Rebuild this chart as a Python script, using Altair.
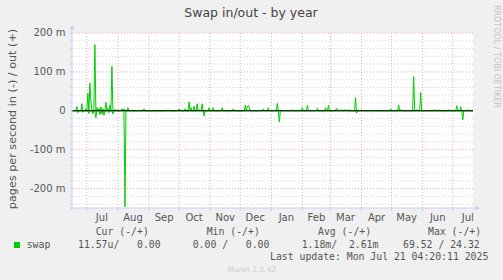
import altair as alt
import pandas as pd

# ---- data (milli-pages per second) ----
out_dates = ["2024-06-21", "2024-06-26", "2024-06-30", "2024-07-02", "2024-07-04", "2024-07-05",
             "2024-07-09", "2024-07-11", "2024-07-13", "2024-07-15", "2024-07-17", "2024-07-20",
             "2024-07-22", "2024-07-24", "2024-07-26", "2024-07-29", "2024-08-01", "2024-08-05",
             "2024-08-07", "2024-08-11", "2024-08-27", "2024-09-20", "2024-09-30", "2024-10-01",
             "2024-10-02", "2024-10-07", "2024-10-11", "2024-10-13", "2024-10-16", "2024-10-19",
             "2024-10-21", "2024-10-24", "2024-10-31", "2024-11-04", "2024-11-13", "2024-11-24",
             "2024-12-06", "2024-12-08", "2024-12-09", "2024-12-10", "2024-12-24", "2024-12-29",
             "2025-01-07", "2025-01-22", "2025-02-01", "2025-02-06", "2025-02-16", "2025-02-24",
             "2025-02-27", "2025-03-07", "2025-03-10", "2025-03-12", "2025-03-15", "2025-03-17",
             "2025-03-20", "2025-03-26", "2025-04-01", "2025-04-30", "2025-05-08", "2025-05-10",
             "2025-05-23", "2025-05-26", "2025-05-30", "2025-06-13", "2025-06-17", "2025-06-27",
             "2025-07-05", "2025-07-09", "2025-07-17"]
out_vals = [11, 18, 5, 45, 71, 25,
            170, 8, 6, 10, 5, 22,
            6, 15, 114, 4, 3, 5,
            5, 8, 5, 3, 3, 3,
            3, 5, 23, 8, 12, 18,
            3, 18, 8, 8, 8, 5,
            14, 10, 14, 8, 5, 8,
            19, 3, 8, 14, 6, 8,
            14, 7, 3, 3, 3, 3,
            3, 34, 3, 5, 15, 3,
            88, 3, 47, 3, 3, 3,
            13, 10, 3]

in_dates = ["2024-06-22", "2024-06-27", "2024-07-03", "2024-07-07", "2024-07-10", "2024-07-14",
            "2024-07-16", "2024-07-18", "2024-07-23", "2024-07-27", "2024-08-08", "2024-10-26",
            "2025-01-09", "2025-03-27", "2025-07-11"]
in_vals = [5, 4, 7, 8, 18, 10,
           8, 12, 5, 8, 247, 13,
           29, 6, 23]

month_starts = ["2024-07-01", "2024-08-01", "2024-09-01", "2024-10-01", "2024-11-01", "2024-12-01",
                "2025-01-01", "2025-02-01", "2025-03-01", "2025-04-01", "2025-05-01", "2025-06-01",
                "2025-07-01"]
month_mids = ["2024-07-16", "2024-08-16", "2024-09-16", "2024-10-16", "2024-11-16", "2024-12-16",
              "2025-01-16", "2025-02-15", "2025-03-16", "2025-04-16", "2025-05-16", "2025-06-16",
              "2025-07-16"]
month_labels = ["Jul", "Aug", "Sep", "Oct", "Nov", "Dec", "Jan", "Feb", "Mar", "Apr", "May", "Jun", "Jul"]

y_major = [-200, -100, 0, 100, 200]
y_major_labels = ["-200 m", "-100 m", "0", "100 m", "200 m"]
y_minor = [-240, -220, -180, -160, -140, -120, -80, -60, -40, -20,
           20, 40, 60, 80, 120, 140, 160, 180]

legend_headers = ["Cur (-/+)", "Min (-/+)", "Avg (-/+)", "Max (-/+)"]
legend_values = ["11.57u/   0.00", "0.00 /   0.00", "1.18m/  2.61m", "69.52 / 24.32"]
last_update = "Last update: Mon Jul 21 04:20:11 2025"

# ---- tables ----
days = pd.date_range("2024-06-16", "2025-07-21", freq="D")
out_s = pd.Series(0.0, index=days)
out_s[pd.to_datetime(out_dates)] = out_vals
in_s = pd.Series(0.0, index=days)
in_s[pd.to_datetime(in_dates)] = in_vals
day_str = list(days.strftime("%Y-%m-%d"))
lines_df = pd.concat([
    pd.DataFrame({"date": day_str, "value": out_s.values, "series": "out"}),
    pd.DataFrame({"date": day_str, "value": -in_s.values, "series": "in"}),
])

def ms(s):
    return int(pd.Timestamp(s, tz="UTC").value // 10**6)

x_domain = [ms("2024-06-16 04:20"), ms("2025-07-21 04:20")]
xscale = alt.Scale(type="utc", domain=x_domain)
yscale = alt.Scale(domain=[-250, 200], nice=False, zero=False)

AX = "#C8CCF4"
PINK = "#F0A8A8"
GREY = "#D4D4D4"
FONT = "DejaVu Sans"
MONO = "DejaVu Sans Mono"
W, H = 401, 175

minor_df = pd.DataFrame({"v": y_minor})
major_df = pd.DataFrame({"v": y_major, "lab": y_major_labels})
yt_df = pd.DataFrame({"v": sorted(y_minor + y_major)})
months_df = pd.DataFrame({"d": month_starts})
mids_df = pd.DataFrame({"d": month_mids, "lab": month_labels})

Y = lambda f: alt.Y(f, scale=yscale, axis=None)
X = lambda f: alt.X(f, scale=xscale, axis=None)

minor = alt.Chart(minor_df).mark_rule(color=GREY, strokeDash=[1, 2], strokeWidth=1).encode(y=Y("v:Q"))
vgrid = alt.Chart(months_df).mark_rule(color=PINK, strokeDash=[1, 2], strokeWidth=1).encode(x=X("d:T"))
major = alt.Chart(major_df).mark_rule(color=PINK, strokeDash=[1, 2], strokeWidth=1).encode(y=Y("v:Q"))

lines = alt.Chart(lines_df).mark_line(color="#00CC00", strokeWidth=1, clip=True).encode(
    x=X("date:T"), y=Y("value:Q"), detail="series:N")

zero = alt.Chart(pd.DataFrame({"v": [0]})).mark_rule(color="#000000", strokeWidth=1).encode(y=Y("v:Q"))

# axis ticks and labels
yticks = alt.Chart(yt_df).mark_rule(color=AX, strokeWidth=1).encode(
    y=Y("v:Q"), x=alt.value(-2), x2=alt.value(0))
xticks = alt.Chart(months_df).mark_rule(color=AX, strokeWidth=1).encode(
    x=X("d:T"), y=alt.value(H), y2=alt.value(H + 3))
ylabels = alt.Chart(major_df).mark_text(font=FONT, fontSize=10, color="#555555", baseline="middle",
                                        align="right").encode(
    y=Y("v:Q"), x=alt.value(-6.5), text="lab:N")
mlabels = alt.Chart(mids_df).mark_text(font=FONT, fontSize=10, color="#555555", baseline="middle").encode(
    x=X("d:T"), y=alt.value(184.5), text="lab:N")

NB = "\u00a0"

def txt(s, x, y, **kw):
    return alt.Chart(pd.DataFrame({"t": [s.replace(" ", NB)]})).mark_text(baseline="middle", **kw).encode(
        x=alt.value(x), y=alt.value(y), text="t:N")

ox, oy = 72, 33
one = pd.DataFrame({"k": [1]})
ext_y = alt.Chart(one).mark_rule(color=AX).encode(
    x=alt.value(0), y=alt.value(-6), y2=alt.value(H + 2))
ext_x = alt.Chart(one).mark_rule(color=AX).encode(
    x=alt.value(-2), x2=alt.value(W + 5), y=alt.value(H))
arr_up = alt.Chart(one).mark_point(shape="triangle-up", filled=True, color=AX, size=22, opacity=1).encode(
    x=alt.value(0), y=alt.value(-6))
arr_rt = alt.Chart(one).mark_point(shape="triangle-right", filled=True, color=AX, size=22, opacity=1).encode(
    x=alt.value(W + 5), y=alt.value(H))

layers = [minor, vgrid, major, lines, zero, ext_y, ext_x, arr_up, arr_rt, yticks, xticks, ylabels, mlabels]
layers.append(txt("Swap in/out - by year", 251 - ox, 13 - oy, font=FONT, fontSize=12.5, color="#444444", align="center"))
layers.append(txt("pages per second in (-) / out (+)", 13.3 - ox, 119 - oy, font=FONT, fontSize=11.2,
                  color="#555555", align="center", angle=270))
layers.append(txt("RRDTOOL / TOBI OETIKER", 496 - ox, 5 - oy, font=FONT, fontSize=8,
                  color="#C4C4C4", align="left", angle=90))
for s, lx in zip(legend_headers, [95.7, 206.7, 318, 428]):
    layers.append(txt(s, lx - ox, 232.3 - oy, font=MONO, fontSize=9.8, color="#555555", align="left"))
layers.append(txt("swap", 26.7 - ox, 244.5 - oy, font=MONO, fontSize=9.8, color="#555555", align="left"))
for s, lx in zip(legend_values, [78, 192.7, 301.7, 403]):
    layers.append(txt(s, lx - ox, 244.5 - oy, font=MONO, fontSize=9.8, color="#555555", align="left"))
layers.append(txt(last_update, 488.3 - ox, 256.5 - oy, font=MONO, fontSize=9.8, color="#555555", align="right"))
layers.append(txt("Munin 2.0.42", 251.7 - ox, 269.5 - oy, font=FONT, fontSize=7.5, color="#CCCCCC", align="center"))
layers.append(alt.Chart(one).mark_rect(color="#00CC00").encode(
    x=alt.value(14 - ox), x2=alt.value(20 - ox), y=alt.value(242 - oy), y2=alt.value(248 - oy)))

chart = alt.layer(*layers).properties(
    width=W, height=H,
    autosize=alt.AutoSizeParams(type="none"),
    padding={"left": ox, "top": oy, "right": 503 - ox - W, "bottom": 280 - oy - H},
    background="#F0F0F0",
).configure_view(stroke=None, fill="#FFFFFF")

chart.save("out.html", embed_options={"renderer": "svg", "actions": False})
